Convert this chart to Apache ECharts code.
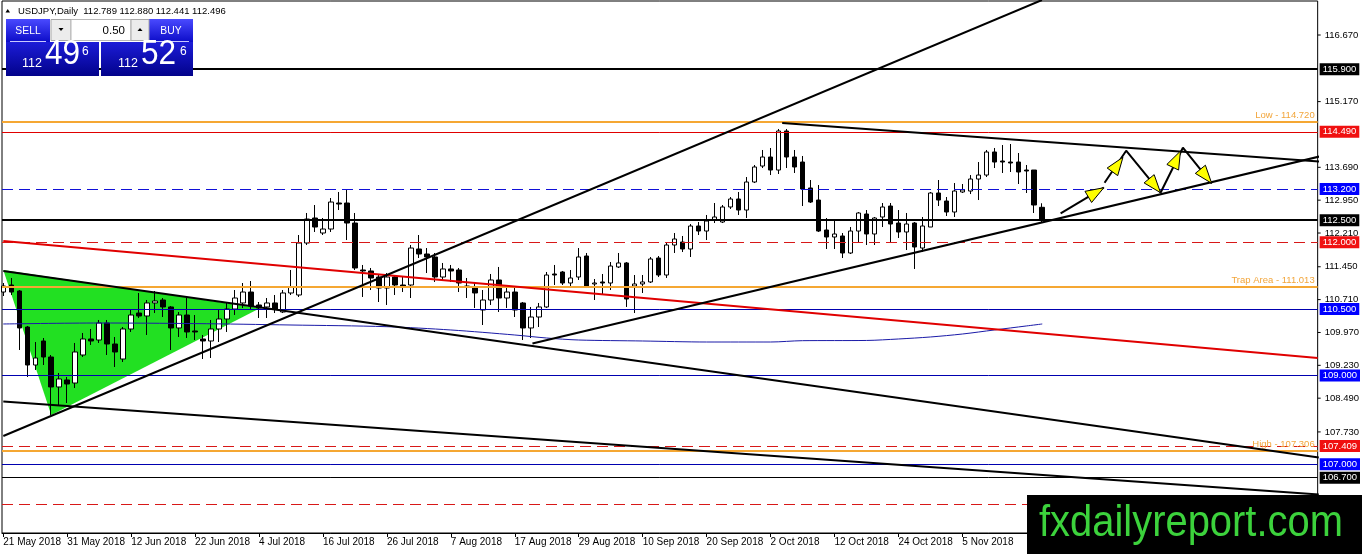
<!DOCTYPE html>
<html>
<head>
<meta charset="utf-8">
<script src="https://cdn.jsdelivr.net/npm/echarts@6.0.0/dist/echarts.min.js"></script>
<style>html,body{margin:0;padding:0;background:#fff;}#c{width:1362px;height:554px;}</style>
</head>
<body>
<div id="c"></div>
<script>
// ---------- data ----------
const symbol = 'USDJPY';
const timeframe = 'Daily';
const dateLabels = ['21 May 2018','31 May 2018','12 Jun 2018','22 Jun 2018','4 Jul 2018','16 Jul 2018','26 Jul 2018','7 Aug 2018','17 Aug 2018','29 Aug 2018','10 Sep 2018','20 Sep 2018','2 Oct 2018','12 Oct 2018','24 Oct 2018','5 Nov 2018'];
const labelStep = 8; // one date label every 8 bars

const opens = [110.881,111.039,110.904,110.093,109.237,109.778,109.417,108.742,108.900,108.831,
109.462,109.823,109.800,110.183,109.710,109.372,110.048,110.408,110.341,110.634,
110.701,110.544,110.071,110.363,110.003,109.823,109.778,110.048,110.273,110.498,
110.634,110.881,110.589,110.544,110.634,110.431,110.859,110.814,111.985,112.548,
112.210,112.300,112.886,112.886,112.435,111.377,111.355,111.219,110.971,111.219,
111.039,111.039,111.850,111.737,111.670,111.219,111.400,111.377,111.016,110.994,
110.476,110.701,111.152,110.746,110.881,110.634,110.071,110.318,110.544,111.287,
111.332,111.084,111.219,111.692,111.062,111.107,111.084,111.445,111.535,111.016,
111.062,111.107,111.647,111.264,111.940,112.007,111.850,112.368,112.255,112.503,
112.458,112.796,112.976,112.728,113.359,113.719,113.922,113.629,114.508,113.922,
113.809,113.224,112.953,112.278,112.120,112.143,111.760,112.255,112.638,112.188,
112.571,112.818,112.435,112.233,112.435,111.872,112.345,113.111,112.931,112.683,
113.134,113.156,113.426,113.516,114.035,113.832,113.809,113.809,113.629,113.629,
112.789];
const highs = [111.084,111.197,110.926,110.116,109.755,109.845,109.462,109.057,108.967,109.733,
109.958,110.048,110.251,110.251,109.868,110.093,110.476,110.859,110.701,110.904,
110.746,110.566,110.431,110.746,110.363,109.913,110.251,110.498,110.634,110.926,
111.084,111.129,110.656,110.746,110.814,110.926,111.377,112.165,112.661,112.841,
112.548,112.998,113.134,113.179,112.661,111.490,111.422,111.264,111.309,111.264,
111.219,111.940,112.165,111.872,111.760,111.535,111.490,111.422,111.197,111.107,
110.926,111.287,111.445,110.994,110.971,110.656,110.544,110.634,111.332,111.490,
111.355,111.377,111.872,111.760,111.174,111.287,111.557,111.760,111.557,111.264,
111.264,111.670,111.692,112.007,112.210,112.143,112.413,112.458,112.616,112.886,
112.841,113.021,113.134,113.471,113.742,114.080,114.125,114.553,114.553,114.080,
113.945,113.404,113.291,112.548,112.503,112.210,112.345,112.683,112.728,112.571,
112.886,112.886,112.728,112.661,112.458,112.571,113.134,113.404,113.021,113.336,
113.314,113.516,113.809,114.080,114.125,114.192,114.215,114.012,113.742,113.629,
112.880];
const lows = [110.791,110.814,109.575,108.967,109.125,109.237,108.111,108.336,108.381,108.719,
109.417,109.688,109.733,109.462,109.192,109.305,109.981,110.296,109.913,110.408,
110.318,109.575,109.868,109.845,109.800,109.372,109.395,109.755,109.981,110.363,
110.521,110.498,110.296,110.296,110.408,110.408,110.814,110.769,111.940,112.233,
112.165,112.233,112.728,112.052,111.377,110.769,110.926,110.656,110.589,110.814,
110.881,110.746,111.647,111.309,111.107,111.152,111.107,110.881,110.746,110.521,
110.138,110.589,110.431,110.521,110.318,109.800,109.845,110.093,110.521,111.039,
111.039,110.994,111.152,110.971,110.701,110.836,110.926,111.422,110.544,110.408,
110.859,111.084,111.219,111.197,111.760,111.782,111.670,112.165,112.052,112.435,
112.435,112.751,112.616,112.548,113.336,113.674,113.516,113.539,113.674,113.562,
112.818,112.886,112.233,111.850,111.850,111.647,111.737,112.007,111.940,111.940,
112.345,111.985,112.098,111.827,111.400,111.782,112.345,112.818,112.593,112.571,
113.111,113.088,112.953,113.471,113.674,113.562,113.584,113.314,113.111,112.661,
112.441];
const closes = [111.016,110.881,110.071,109.237,109.395,109.417,108.742,108.922,108.809,109.530,
109.823,109.778,110.183,109.710,109.530,110.048,110.363,110.341,110.634,110.679,
110.544,110.071,110.363,109.981,109.981,109.778,110.048,110.273,110.498,110.746,
110.881,110.566,110.521,110.634,110.498,110.859,110.994,111.985,112.525,112.345,
112.300,112.908,112.863,112.435,111.422,111.355,111.197,110.971,111.219,111.039,
110.994,111.872,111.737,111.670,111.219,111.400,111.355,111.084,110.994,110.859,
110.701,111.152,110.746,110.881,110.476,110.071,110.318,110.544,111.264,111.264,
111.084,111.197,111.670,110.994,111.084,111.084,111.467,111.535,110.724,111.062,
111.107,111.625,111.264,111.940,112.075,111.850,112.368,112.255,112.480,112.571,
112.796,112.976,112.728,113.359,113.697,113.922,113.629,114.508,113.922,113.697,
113.201,112.908,112.255,112.120,112.188,111.760,112.255,112.661,112.188,112.548,
112.796,112.413,112.233,112.413,111.895,112.368,113.111,112.953,112.683,113.156,
113.179,113.426,113.516,114.035,113.809,113.809,113.787,113.584,113.607,112.841,
112.496];
const askPrice = 112.526;
const lotSize = '0.50';

// moving average (blue curve), sampled at bar indexes
const maBars   = [0, 12, 24, 36, 48, 56, 64, 68, 72, 80, 88, 96, 100, 108, 112, 116, 120, 124, 128, 130];
const maValues = [110.161,110.183,110.170,110.138,110.100,110.026,109.913,109.845,109.800,109.778,109.755,109.755,109.785,109.790,109.823,109.868,109.935,110.026,110.116,110.161];

// right price scale ticks
const priceTicks = [116.670,115.170,113.690,112.950,112.210,111.450,110.710,109.970,109.230,108.490,107.730];

// horizontal levels
const levelsBlackThick = [115.900, 112.500];
const levelsBlackThin  = [106.700];
const levelsRed        = [114.490];
const levelsRedDashed  = [112.000, 107.409, 106.100];
const levelsBlue       = [110.500, 109.000, 107.000];
const levelsBlueDashed = [113.200];
const zoneLevels = [114.720, 111.013, 107.306];
const zoneNames  = ['Low', 'Trap Area', 'High'];

// trend lines: [bar index, price] end points
const lineRed        = [[0, 112.030], [164.46, 109.395]];
const lineMid        = [[0, 111.354], [164.6, 107.154]];
const lineLow        = [[0, 108.415], [164.6, 106.320]];
const lineChannelTop = [[0, 107.638], [129.96, 117.458]];
const lineSupport    = [[66.21, 109.721], [169.84, 114.154]];
const lineResist     = [[97.46, 114.688], [169.84, 113.753]];
const triangle       = [[0, 111.377], [6, 108.111], [32.1, 110.514]];

// projected path arrows
const arrowFirst  = [[132.3, 112.654], [137.7, 113.230]];
const arrowZigzag = [[137.8, 113.343], [140.5, 114.064], [144.8, 113.118], [147.6, 114.131], [151.2, 113.330]];
const arrowHeads  = [[132.3,112.654,137.7,113.230],[137.8,113.343,140.1,113.917],[140.5,114.064,144.8,113.118],[144.8,113.118,147.3,114.057],[147.6,114.131,151.2,113.330]];

// ---------- chart ----------
const FONT = '"Liberation Sans", Arial, sans-serif';
const chart = echarts.init(document.getElementById('c'), null, {renderer: 'canvas'});

const candleData = opens.map((o, i) => [i, o, closes[i], lows[i], highs[i]]);
const maData = maBars.map((b, i) => [b, maValues[i]]);
const labelBars = dateLabels.map((d, i) => i * labelStep);
const last = opens.length - 1;
const header = symbol + ',' + timeframe + '  ' + [opens[last], highs[last], lows[last], closes[last]].map(v => v.toFixed(3)).join(' ');

function splitQuote(p) {
  const s = p.toFixed(3);
  return [s.slice(0, 3), s.slice(4, 6), s.slice(6)];
}
const bidParts = splitQuote(closes[last]);
const askParts = splitQuote(askPrice);

function boxLevels(values, lineColor, width, dash, boxColor) {
  return values.map(v => ({
    yAxis: v,
    lineStyle: {color: lineColor, width: width, type: dash},
    label: {show: true, position: 'end', distance: 2, formatter: v.toFixed(3), color: '#fff',
      backgroundColor: boxColor, padding: [1, 3, 1, 3], fontSize: 9.5, fontFamily: FONT}
  }));
}
const zoneItems = zoneLevels.map((v, i) => ({
  yAxis: v,
  lineStyle: {color: '#f5a733', width: 2, type: 'solid'},
  label: {show: true, position: 'insideEndTop', distance: [3, 1], formatter: zoneNames[i] + ' - ' + v.toFixed(3),
    color: '#f2a53a', fontSize: 9.5, fontFamily: FONT}
}));

function trend(data, color, clip) {
  return {type: 'line', data: data, symbol: 'none', showSymbol: false, silent: true, clip: clip,
    lineStyle: {color: color, width: 2}, z: 6, animation: false};
}

const btnGrad = {type: 'linear', x: 0, y: 0, x2: 0, y2: 1, colorStops: [{offset: 0, color: '#4a4aff'}, {offset: 1, color: '#0c0cc8'}]};
const boxGrad = {type: 'linear', x: 0, y: 0, x2: 0, y2: 1, colorStops: [{offset: 0, color: '#1c1cd8'}, {offset: 1, color: '#02028a'}]};
function txt(x, y, text, size, color, align, valign, extra) {
  return Object.assign({type: 'text', x: x, y: y, z: 101,
    style: {text: text, font: size + 'px ' + FONT, fill: color, align: align, verticalAlign: valign,
      textAlign: align, textVerticalAlign: valign}}, extra || {});
}

const option = {
  animation: false,
  backgroundColor: '#fff',
  grid: {left: 2, right: 43, top: 1, bottom: 21, show: true, borderColor: '#000', borderWidth: 1, backgroundColor: '#fff'},
  xAxis: {
    type: 'value', min: -0.1625, max: 164.4625,
    axisLine: {show: true, onZero: false, lineStyle: {color: '#000', width: 1}},
    axisTick: {show: true, customValues: labelBars, length: 4, lineStyle: {color: '#000'}},
    axisLabel: {customValues: labelBars, formatter: v => dateLabels[Math.round(v / labelStep)] || '',
      align: 'left', margin: 4, fontSize: 10, fontFamily: FONT, color: '#000'},
    splitLine: {show: false}
  },
  yAxis: {
    type: 'value', position: 'right', min: 105.453, max: 117.436,
    axisLine: {show: false},
    axisTick: {show: false},
    axisLabel: {
      customValues: priceTicks, formatter: v => '{t|}{s|}' + v.toFixed(3), margin: 0,
      fontSize: 9.5, fontFamily: FONT, color: '#000',
      rich: {t: {width: 3, height: 1, backgroundColor: '#000'}, s: {width: 4}}
    },
    splitLine: {show: false}
  },
  series: [
    {
      type: 'custom', silent: true, z: 1, data: [[0, 110]],
      renderItem: (params, api) => ({
        type: 'polygon',
        shape: {points: triangle.map(p => api.coord(p))},
        style: {fill: '#22e022'}
      })
    },
    {
      type: 'candlestick', data: candleData, barWidth: 5, z: 3, silent: true,
      itemStyle: {color: '#fff', color0: '#000', borderColor: '#000', borderColor0: '#000', borderWidth: 1}
    },
    {
      type: 'line', data: maData, symbol: 'none', smooth: 0.3, silent: true, z: 4,
      lineStyle: {color: '#1a1aa8', width: 1}
    },
    {
      type: 'line', data: [], z: 5, silent: true,
      markLine: {
        symbol: ['none', 'none'], silent: true, animation: false,
        data: [].concat(
          zoneItems,
          boxLevels(levelsRed, '#e00000', 1, 'solid', '#f01010'),
          boxLevels(levelsRedDashed, '#d81818', 1, [11, 6], '#f01010'),
          boxLevels(levelsBlueDashed, '#1010d8', 1, [11, 6], '#0000ff'),
          boxLevels(levelsBlue, '#0000b0', 1, 'solid', '#0000ff'),
          boxLevels(levelsBlackThick, '#000', 2, 'solid', '#000'),
          boxLevels(levelsBlackThin, '#000', 1, 'solid', '#000')
        )
      }
    },
    trend(lineRed, '#e00000', true),
    trend(lineMid, '#000', true),
    trend(lineLow, '#000', true),
    trend(lineChannelTop, '#000', true),
    trend(lineSupport, '#000', false),
    trend(lineResist, '#000', false),
    trend(arrowFirst, '#000', false),
    trend(arrowZigzag, '#000', false),
    {
      type: 'custom', silent: true, z: 8, data: arrowHeads,
      renderItem: (params, api) => {
        const a = api.coord([api.value(0), api.value(1)]);
        const b = api.coord([api.value(2), api.value(3)]);
        const dx = b[0] - a[0], dy = b[1] - a[1];
        const len = Math.hypot(dx, dy) || 1;
        const ux = dx / len, uy = dy / len, nx = -uy, ny = ux;
        const L = 18, W = 6.5;
        const bx = b[0] - ux * L, by = b[1] - uy * L;
        return {
          type: 'polygon',
          shape: {points: [b, [bx + nx * W, by + ny * W], [bx - nx * W, by - ny * W]]},
          style: {fill: '#ffff00', stroke: '#000', lineWidth: 1}
        };
      }
    }
  ],
  graphic: [
    // header
    {type: 'polygon', z: 101, shape: {points: [[5.5, 12.5], [10, 12.5], [7.75, 9]]}, style: {fill: '#000'}},
    txt(18, 11, header, 9.5, '#000', 'left', 'middle'),
    // one click trading panel
    {type: 'rect', z: 100, shape: {x: 6, y: 19, width: 44, height: 23}, style: {fill: btnGrad}},
    {type: 'rect', z: 100, shape: {x: 149, y: 19, width: 44, height: 23}, style: {fill: btnGrad}},
    {type: 'rect', z: 100, shape: {x: 51, y: 19.5, width: 20, height: 21}, style: {fill: '#ececec', stroke: '#a8a8a8', lineWidth: 1}},
    {type: 'rect', z: 100, shape: {x: 71, y: 19.5, width: 60, height: 21}, style: {fill: '#fff', stroke: '#b8b8b8', lineWidth: 1}},
    {type: 'rect', z: 100, shape: {x: 131, y: 19.5, width: 18, height: 21}, style: {fill: '#ececec', stroke: '#a8a8a8', lineWidth: 1}},
    {type: 'polygon', z: 101, shape: {points: [[58.5, 28], [63.5, 28], [61, 31]]}, style: {fill: '#000'}},
    {type: 'polygon', z: 101, shape: {points: [[137.5, 31], [142.5, 31], [140, 28]]}, style: {fill: '#000'}},
    txt(125, 30.5, lotSize, 11.5, '#000', 'right', 'middle'),
    txt(28, 31, 'SELL', 11.5, '#fff', 'center', 'middle', {scaleX: 0.9}),
    txt(171, 31, 'BUY', 11.5, '#fff', 'center', 'middle', {scaleX: 0.9}),
    {type: 'line', z: 101, shape: {x1: 10, y1: 41.5, x2: 46, y2: 41.5}, style: {stroke: '#c8c8ff', lineWidth: 1}},
    {type: 'line', z: 101, shape: {x1: 153, y1: 41.5, x2: 189, y2: 41.5}, style: {stroke: '#c8c8ff', lineWidth: 1}},
    {type: 'rect', z: 100, shape: {x: 6, y: 42, width: 93, height: 34}, style: {fill: boxGrad}},
    {type: 'rect', z: 100, shape: {x: 101, y: 42, width: 92, height: 34}, style: {fill: boxGrad}},
    txt(22, 70, bidParts[0], 12.5, '#fff', 'left', 'bottom'),
    txt(45, 72, bidParts[1], 35, '#fff', 'left', 'bottom', {scaleX: 0.9}),
    txt(82, 45.5, bidParts[2], 12, '#fff', 'left', 'top'),
    txt(118, 70, askParts[0], 12.5, '#fff', 'left', 'bottom'),
    txt(141, 72, askParts[1], 35, '#fff', 'left', 'bottom', {scaleX: 0.9}),
    txt(180, 45.5, askParts[2], 12, '#fff', 'left', 'top'),
    // watermark
    {type: 'rect', z: 100, shape: {x: 1027, y: 495, width: 335, height: 59}, style: {fill: '#000'}},
    txt(1039, 546, 'fxdailyreport.com', 45, '#3cd23c', 'left', 'bottom', {scaleX: 0.887})
  ]
};
chart.setOption(option);
</script>
</body>
</html>
